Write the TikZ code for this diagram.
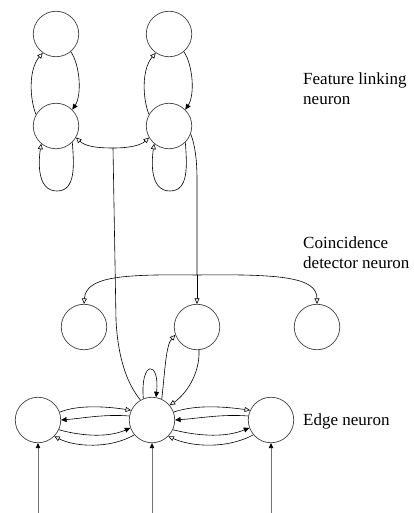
\documentclass[tikz,border=0pt]{standalone}
\usepackage{fontspec}
\setmainfont{Liberation Serif}
\usetikzlibrary{arrows.meta}
\tikzset{
  neuron/.style={circle, draw=black!75, line width=0.7pt, minimum size=45.5pt, inner sep=0pt},
  link/.style={draw=black, line width=0.6pt},
  excite/.style={link, -{Triangle[open,length=5.5pt,width=5pt]}},
  inhibit/.style={link, -{Triangle[length=5.5pt,width=5pt]}},
  feed/.style={draw=black!55, line width=0.8pt, -{Triangle[length=5pt,width=4.5pt,color=black]}},
  label/.style={anchor=base west, align=left, inner sep=0pt,
                font=\fontsize{17}{19.5}\selectfont}
}
\begin{document}
\begin{tikzpicture}[x=1pt,y=-1pt]
\useasboundingbox (0,0) rectangle (414,513);

% feature linking neurons (two columns)
\node[neuron] (t1) at (56,34) {};
\node[neuron] (m1) at (56,126) {};
\node[neuron] (t2) at (169,34) {};
\node[neuron] (m2) at (169,126) {};

% coincidence detector neurons
\node[neuron] (c1) at (84,327) {};
\node[neuron] (c2) at (197,327) {};
\node[neuron] (c3) at (317,327) {};

% edge neurons
\node[neuron] (e1) at (38,420) {};
\node[neuron] (e2) at (152,420) {};
\node[neuron] (e3) at (271,420) {};

% labels (base anchor sits on the last line)
\node[label] (lf) at (303,104.5) {Feature linking\\neuron};
\node[label] (lc) at (303,268) {Coincidence\\detector neuron};
\node[label] (le) at (303,425) {Edge neuron};

% branch points
\coordinate (j1) at (113,148);
\coordinate (j2) at (197,275);
\coordinate (v1) at (116,320);

% feature linking column loops
\draw[inhibit] (t1.-50) .. controls (80,65) and (82,95) .. (m1.45);
\draw[excite] (m1.150) .. controls (30,100) and (28,70) .. (t1.-125);
\draw[excite] (m1.-45) .. controls (74,165) and (76,191) .. (57,191)
                        .. controls (38,191) and (38,165) .. (m1.-130);
\draw[inhibit] (t2.-50) .. controls (193,65) and (195,95) .. (m2.45);
\draw[excite] (m2.150) .. controls (143,100) and (141,70) .. (t2.-125);
\draw[excite] (m2.-45) .. controls (187,165) and (189,191) .. (170,191)
                        .. controls (151,191) and (151,165) .. (m2.-130);

% edge neuron output to both feature linking neurons
\draw[link] (e2.120) .. controls (128,385) and (118,360) .. (v1) -- (j1);
\draw[excite] (j1) .. controls (95,148) and (85,146) .. (m1.-30);
\draw[excite] (j1) .. controls (131,148) and (141,145) .. (m2.-150);

% feature linking output to the coincidence detectors
\draw[link] (m2.-20) .. controls (195,145) and (197,160) .. (197,180) -- (j2);
\draw[excite] (j2) -- (c2.90);
\draw[excite] (j2) .. controls (120,274) and (86,277) .. (c1.90);
\draw[excite] (j2) .. controls (280,274) and (317,277) .. (c3.90);

% middle edge neuron: self loop and coincidence coupling
\draw[inhibit] (e2.112) .. controls (140,360) and (160,360) .. (e2.80);
\draw[excite] (e2.65) .. controls (165,370) and (166,345) .. (c2.200);
\draw[excite] (c2.-85) .. controls (200,375) and (185,395) .. (e2.40);

% lateral coupling between edge neurons
\draw[excite] (e1.20) .. controls (80,404) and (110,407) .. (e2.155);
\draw[inhibit] (e2.170) .. controls (105,414) and (85,418) .. (e1.0);
\draw[inhibit] (e1.-25) .. controls (85,437) and (110,437) .. (e2.-160);
\draw[excite] (e2.-140) .. controls (110,449) and (75,447) .. (e1.-45);

\draw[excite] (e2.20) .. controls (197,404) and (227,407) .. (e3.155);
\draw[inhibit] (e3.170) .. controls (222,414) and (202,418) .. (e2.0);
\draw[inhibit] (e2.-25) .. controls (202,437) and (227,437) .. (e3.-160);
\draw[excite] (e3.-140) .. controls (227,449) and (192,447) .. (e2.-45);

% external inputs
\coordinate (in1) at (38,513);
\coordinate (in2) at (152,513);
\coordinate (in3) at (271,513);
\draw[feed] (in1) -- (e1.south);
\draw[feed] (in2) -- (e2.south);
\draw[feed] (in3) -- (e3.south);
\end{tikzpicture}
\end{document}
